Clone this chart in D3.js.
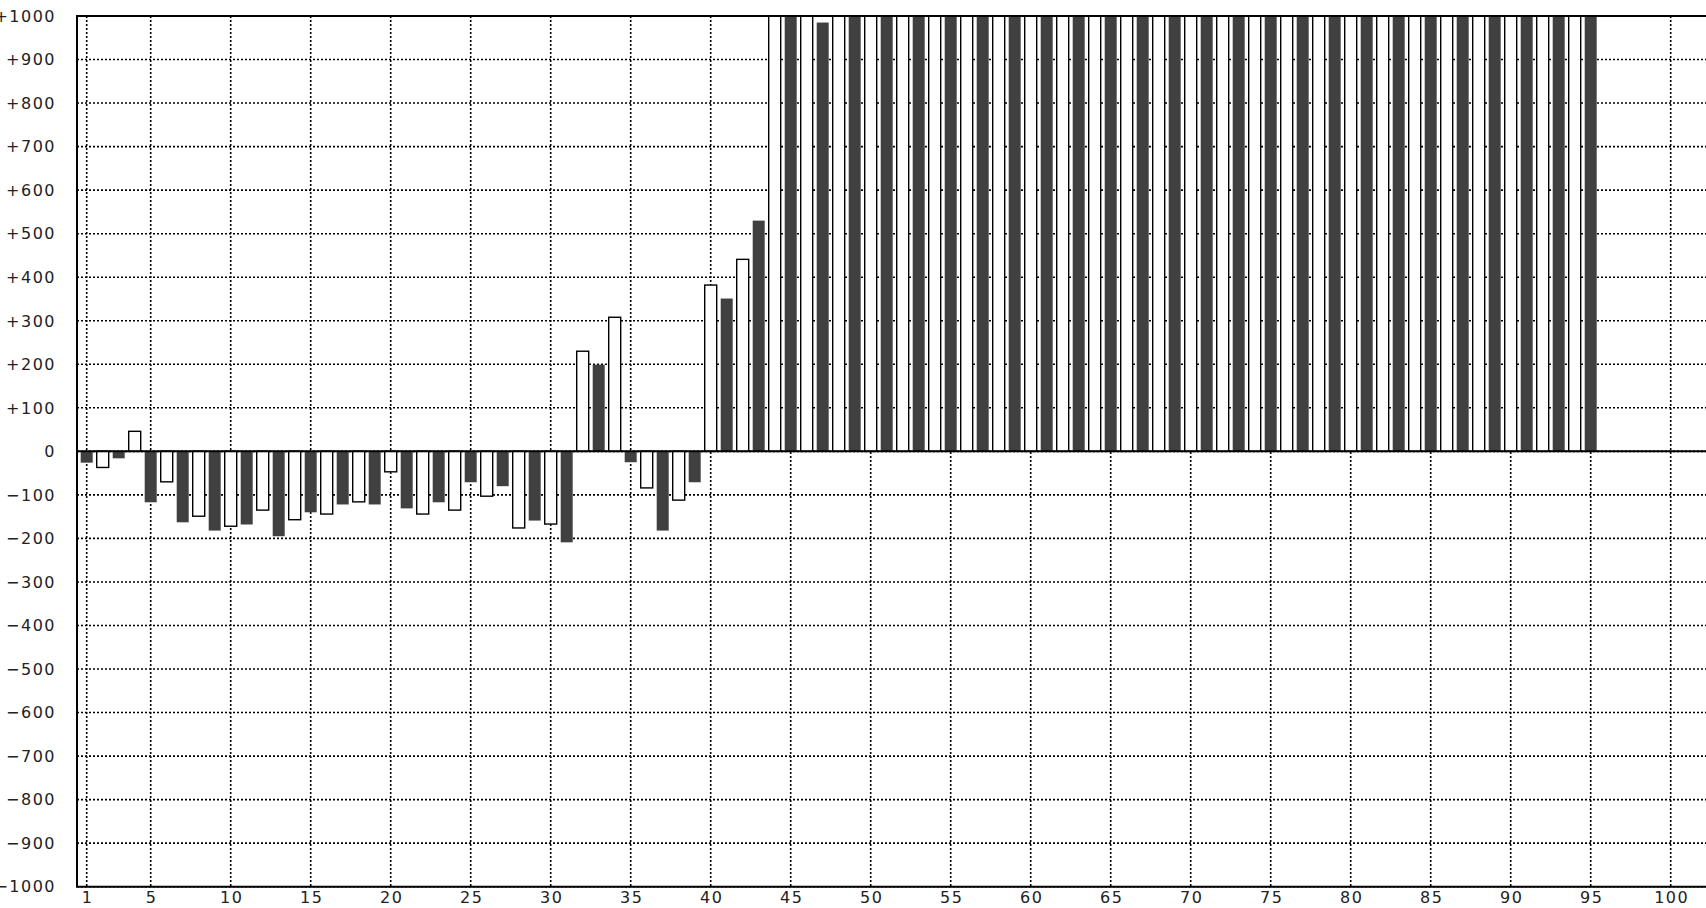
<!DOCTYPE html>
<html>
<head>
<meta charset="utf-8">
<script src="https://cdn.jsdelivr.net/npm/d3@7"></script>
<style>
  body { margin: 0; background: #fff; }
  svg { display: block; }
  .tick-label { font-family: "DejaVu Sans", sans-serif; font-size: 16px; fill: #222; letter-spacing: 1.5px; }
</style>
</head>
<body>
<script>
var width = 1706,
    height = 908;

// bar values, one per category 1..95 (odd = dark, even = white)
var values = [
  -26, -37, -16, 46, -117, -70, -163, -149, -182, -172,
  -168, -135, -195, -157, -140, -144, -122, -116, -122, -47,
  -131, -144, -117, -135, -71, -103, -80, -176, -159, -167,
  -209, 230, 199, 308, -25, -84, -182, -112, -71, 382,
  351, 441, 530, 1000, 1000, 1000, 985, 1000, 1000, 1000,
  1000, 1000, 1000, 1000, 1000, 1000, 1000, 1000, 1000, 1000,
  1000, 1000, 1000, 1000, 1000, 1000, 1000, 1000, 1000, 1000,
  1000, 1000, 1000, 1000, 1000, 1000, 1000, 1000, 1000, 1000,
  1000, 1000, 1000, 1000, 1000, 1000, 1000, 1000, 1000, 1000,
  1000, 1000, 1000, 1000, 1000
];
var xTicks = [1, 5, 10, 15, 20, 25, 30, 35, 40, 45, 50, 55, 60, 65, 70, 75, 80, 85, 90, 95, 100];
var yTicks = [-1000, -900, -800, -700, -600, -500, -400, -300, -200, -100, 0,
              100, 200, 300, 400, 500, 600, 700, 800, 900, 1000];

var plotLeft = 77,
    plotTop = 16,
    plotBottom = 886.7,
    barWidth = 12;

var x = d3.scaleLinear().domain([1, 100]).range([86.7, 1670.7]);
var y = d3.scaleLinear().domain([-1000, 1000]).range([plotBottom, plotTop]).clamp(true);

var svg = d3.select("body").append("svg")
    .attr("width", width)
    .attr("height", height);

// dotted grid
svg.selectAll(".vgrid")
    .data(xTicks)
    .enter().append("line")
    .attr("class", "vgrid")
    .attr("x1", function(d) { return x(d); })
    .attr("x2", function(d) { return x(d); })
    .attr("y1", plotTop)
    .attr("y2", plotBottom)
    .style("stroke", "#000")
    .style("stroke-width", 1.6)
    .style("stroke-dasharray", "2,2");

svg.selectAll(".hgrid")
    .data(yTicks)
    .enter().append("line")
    .attr("class", "hgrid")
    .attr("x1", plotLeft)
    .attr("x2", width)
    .attr("y1", function(d) { return y(d); })
    .attr("y2", function(d) { return y(d); })
    .style("stroke", "#000")
    .style("stroke-width", 1.6)
    .style("stroke-dasharray", "2,2");

// bars
svg.selectAll(".bar")
    .data(values)
    .enter().append("rect")
    .attr("class", "bar")
    .attr("x", function(d, i) { return x(i + 1) - barWidth / 2; })
    .attr("width", barWidth)
    .attr("y", function(d) { return Math.min(y(d), y(0)); })
    .attr("height", function(d) { return Math.abs(y(d) - y(0)); })
    .style("fill", function(d, i) { return (i + 1) % 2 === 1 ? "#404040" : "#fff"; })
    .style("stroke", function(d, i) { return (i + 1) % 2 === 1 ? "none" : "#000"; })
    .style("stroke-width", 1.4);

// zero line and frame
svg.append("line")
    .attr("x1", plotLeft).attr("x2", width)
    .attr("y1", y(0)).attr("y2", y(0))
    .style("stroke", "#000").style("stroke-width", 2);

svg.append("path")
    .attr("d", "M" + width + "," + plotTop + "H" + plotLeft + "V" + plotBottom + "H" + width)
    .style("fill", "none")
    .style("stroke", "#000")
    .style("stroke-width", 2);

// tick labels
var fmt = d3.format("+");
svg.selectAll(".ylabel")
    .data(yTicks)
    .enter().append("text")
    .attr("class", "tick-label ylabel")
    .attr("x", 56)
    .attr("y", function(d) { return y(d); })
    .attr("dy", "0.36em")
    .attr("text-anchor", "end")
    .text(function(d) { return d === 0 ? "0" : fmt(d); });

svg.selectAll(".xlabel")
    .data(xTicks)
    .enter().append("text")
    .attr("class", "tick-label xlabel")
    .attr("x", function(d) { return x(d) + 1; })
    .attr("y", 903)
    .attr("text-anchor", "middle")
    .text(function(d) { return d; });
</script>
</body>
</html>
